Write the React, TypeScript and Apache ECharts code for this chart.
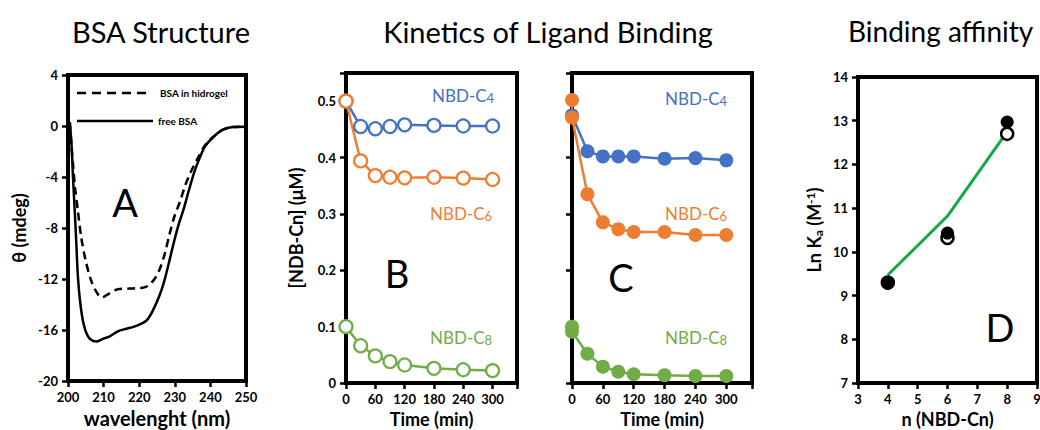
import React, { useEffect, useRef } from 'react';
import * as echarts from 'echarts';

// ---- Panel A: CD spectra ----
const waveFree = [200.5, 201.0, 201.4, 201.9, 202.35, 202.8, 203.5, 204.4, 205.6, 207.0, 208.1, 209.8, 211.7, 214.0, 216.4, 218.4, 220.6, 222.1, 223.8, 225.7, 227.0, 228.2, 229.4, 231.0, 232.5, 234.0, 235.5, 237.0, 238.5, 240.6, 243.4, 246.3, 250];
const thetaFree = [0.3, -1.5, -4.0, -6.7, -9.3, -11.9, -14.0, -15.55, -16.5, -16.86, -16.9, -16.7, -16.5, -16.1, -15.9, -15.75, -15.5, -15.25, -14.5, -13.3, -12.2, -10.9, -9.5, -7.8, -6.5, -5.0, -3.6, -2.5, -1.6, -0.92, -0.31, -0.08, -0.05];
const waveGel = [200.5, 201.0, 201.5, 202.0, 202.8, 203.7, 205.0, 206.6, 208.4, 209.6, 211.2, 214.0, 217.3, 220.6, 222.4, 224.3, 225.8, 227.2, 228.5, 230.0, 231.5, 233.0, 234.5, 236.5, 238.5, 240.6, 243.4, 246.3, 250];
const thetaGel = [0.3, -1.6, -3.3, -4.9, -6.7, -8.7, -10.6, -12.2, -13.2, -13.45, -13.2, -12.8, -12.75, -12.7, -12.55, -12.0, -11.2, -10.0, -8.5, -7.0, -5.9, -4.6, -3.6, -2.5, -1.5, -0.9, -0.31, -0.08, -0.05];
const legendNames = ['BSA in hidrogel', 'free BSA'];

// ---- Panel B: kinetics (open symbols) ----
const timeB = [0, 30, 60, 90, 120, 180, 240, 300];
const bC4 = [0.5, 0.455, 0.451, 0.455, 0.458, 0.457, 0.456, 0.456];
const bC6 = [0.5, 0.394, 0.368, 0.365, 0.364, 0.365, 0.3635, 0.361];
const bC8 = [0.1, 0.066, 0.048, 0.038, 0.032, 0.026, 0.0235, 0.022];

// ---- Panel C: kinetics (filled symbols) ----
const timeC4 = [0, 30, 60, 90, 120, 180, 240, 300];
const cC4 = [0.475, 0.411, 0.402, 0.402, 0.402, 0.398, 0.399, 0.395];
const timeC6 = [0, 0, 30, 60, 90, 120, 180, 240, 300];
const cC6 = [0.502, 0.471, 0.335, 0.285, 0.273, 0.268, 0.268, 0.2625, 0.2625];
const timeC8 = [0, 0, 30, 60, 90, 120, 180, 240, 300];
const cC8 = [0.1, 0.091, 0.052, 0.029, 0.02, 0.0155, 0.0137, 0.0125, 0.0125];

// ---- Panel D: binding affinity ----
const nChain = [4, 6, 8];
const lnKaFilled = [9.28, 10.43, 12.97];
const lnKaOpen = [9.3, 10.32, 12.7];
const lnKaFit = [9.47, 10.82, 12.75];

const titles = ['BSA Structure', 'Kinetics of Ligand Binding', 'Binding affinity'];
const panelLetters = ['A', 'B', 'C', 'D'];

const BLUE = '#4472c4';
const ORANGE = '#ed7d31';
const GREEN = '#70ad47';
const FIT = '#14a84a';
const FONT = 'Lato';

const zip = (xs: number[], ys: number[]) => xs.map((x, i) => [x, ys[i]]);

export default function App() {
  const ref = useRef<HTMLDivElement>(null);
  useEffect(() => {
    const chart = echarts.init(ref.current!, null, { renderer: 'svg' });
    const tickLabel = { color: '#000', fontFamily: FONT, fontWeight: 'bold' as const, fontSize: 13 };
    const nameStyle = { color: '#000', fontFamily: FONT, fontWeight: 'bold' as const, fontSize: 18 };
    const tick = { show: true, inside: false, length: 6, lineStyle: { color: '#000', width: 2.5 } };
    const gridBase = { show: true, borderColor: '#000', borderWidth: 4, backgroundColor: 'transparent', containLabel: false, outerBoundsMode: 'none' };
    const mkX = (gi: number, min: number, max: number, interval: number, name: string, fmt?: (v: number) => string, ns: any = nameStyle, gap = 26) => ({
      type: 'value', gridIndex: gi, min, max, interval, position: 'bottom',
      axisLine: { show: true, onZero: false, lineStyle: { color: '#000', width: 4 } }, axisTick: tick, splitLine: { show: false },
      axisLabel: { ...tickLabel, margin: 9, formatter: fmt },
      name, nameLocation: 'middle', nameGap: gap, nameTextStyle: ns,
    });
    const mkY = (gi: number, min: number, max: number, interval: number, name: string, showLabel: boolean, fmt?: (v: number) => string, nameGap = 38, ns: any = nameStyle) => ({
      type: 'value', gridIndex: gi, min, max, interval, position: 'left',
      axisLine: { show: true, onZero: false, lineStyle: { color: '#000', width: 4 } }, axisTick: tick, splitLine: { show: false },
      axisLabel: { ...tickLabel, show: showLabel, margin: 10, formatter: fmt },
      name, nameLocation: 'middle', nameGap, nameTextStyle: ns,
    });
    const timeFmt = (v: number) => (v % 60 === 0 ? String(v) : '');
    const concFmt = (v: number) => {
      const r = Math.round(v * 100);
      return r % 10 === 0 ? String(r / 100) : '';
    };
    const lineCommon = { clip: false, z: 3 };
    const openB = (name: string, data: number[], color: string) => ({
      ...lineCommon, type: 'line', name, xAxisIndex: 1, yAxisIndex: 1,
      data: zip(timeB, data), symbol: 'circle', symbolSize: 13,
      itemStyle: { color: '#fff', borderColor: color, borderWidth: 2.2 },
      lineStyle: { color, width: 2.5 },
    });
    const filledC = (name: string, xs: number[], data: number[], color: string) => ({
      ...lineCommon, type: 'line', name, xAxisIndex: 2, yAxisIndex: 2,
      data: zip(xs, data), symbol: 'circle', symbolSize: 14,
      itemStyle: { color, borderWidth: 0 },
      lineStyle: { color, width: 2.5 },
    });
    const label = (x: number, y: number, sub: string, color: string) => ({
      type: 'text', x, y,
      style: {
        text: `{m|NBD-C}{s|${sub}}`,
        verticalAlign: 'middle',
        rich: {
          m: { fontSize: 17, fontFamily: FONT, fill: color, lineHeight: 18, verticalAlign: 'bottom' },
          s: { fontSize: 13, fontFamily: FONT, fill: color, lineHeight: 4, verticalAlign: 'bottom' },
        },
      },
    });
    const letter = (x: number, y: number, t: string) => ({
      type: 'text', x, y,
      style: { text: t, fontSize: 38, fontFamily: FONT, fill: '#000', align: 'center', verticalAlign: 'middle' },
    });
    const legendItem = (y: number, x2: number, tx: number, text: string, dash: any) => ([
      { type: 'line', shape: { x1: 77, y1: y, x2, y2: y }, style: { stroke: '#000', lineWidth: 2.5, lineDash: dash } },
      { type: 'text', x: tx, y, style: { text, fontFamily: FONT, fontWeight: 'bold', fontSize: 10, fill: '#000', verticalAlign: 'middle' } },
    ]);
    const titleStyle = { fontFamily: FONT, fontWeight: 'normal', fontSize: 29, color: '#000' };
    const option: any = {
      animation: false,
      backgroundColor: '#fff',
      title: [
        { text: titles[0], left: 156, top: 12, textAlign: 'center', textStyle: titleStyle },
        { text: titles[1], left: 543, top: 12, textAlign: 'center', textStyle: titleStyle },
        { text: titles[2], left: 843, top: 12, textStyle: { ...titleStyle, fontSize: 28 } },
      ],
      grid: [
        { ...gridBase, left: 68, top: 75, width: 178, height: 306 },
        { ...gridBase, left: 346, top: 73, width: 171, height: 310 },
        { ...gridBase, left: 572, top: 73, width: 180, height: 310 },
        { ...gridBase, left: 858, top: 77, width: 179, height: 306 },
      ],
      xAxis: [
        mkX(0, 200, 250, 10, 'wavelenght (nm)', undefined, { ...nameStyle, fontSize: 20 }, 25),
        mkX(1, 0, 350, 60, 'Time (min)', timeFmt),
        mkX(2, 0, 350, 60, 'Time (min)', timeFmt),
        mkX(3, 3, 9, 1, 'n (NBD-Cn)'),
      ],
      yAxis: [
        mkY(0, -20, 4, 4, 'θ (mdeg)', true, undefined, 40),
        mkY(1, 0, 0.55, 0.1, '[NDB-Cn] (μM)', true, concFmt, 41),
        mkY(2, 0, 0.55, 0.1, '', false),
        mkY(3, 7, 14, 1, '{n|Ln K}{s|a}{n| (M}{p|-1}{n|)}', true, undefined, 34, {
          ...nameStyle,
          rich: {
            n: { ...nameStyle, lineHeight: 20, verticalAlign: 'middle' },
            s: { ...nameStyle, fontSize: 12, lineHeight: 8, verticalAlign: 'bottom' },
            p: { ...nameStyle, fontSize: 12, lineHeight: 8, verticalAlign: 'top' },
          },
        }),
      ],
      series: [
        {
          ...lineCommon, type: 'line', name: legendNames[0], xAxisIndex: 0, yAxisIndex: 0,
          data: zip(waveGel, thetaGel), symbol: 'none', smooth: 0.3,
          lineStyle: { color: '#000', width: 2.5, type: [8, 5] }, itemStyle: { color: '#000' },
        },
        {
          ...lineCommon, type: 'line', name: legendNames[1], xAxisIndex: 0, yAxisIndex: 0,
          data: zip(waveFree, thetaFree), symbol: 'none', smooth: 0.3,
          lineStyle: { color: '#000', width: 2.5 }, itemStyle: { color: '#000' },
        },
        openB('B-C4', bC4, BLUE),
        openB('B-C8', bC8, GREEN),
        openB('B-C6', bC6, ORANGE),
        filledC('C-C4', timeC4, cC4, BLUE),
        filledC('C-C6', timeC6, cC6, ORANGE),
        filledC('C-C8', timeC8, cC8, GREEN),
        {
          ...lineCommon, type: 'line', name: 'fit', xAxisIndex: 3, yAxisIndex: 3,
          data: zip(nChain, lnKaFit), symbol: 'none', lineStyle: { color: FIT, width: 3 },
        },
        {
          ...lineCommon, type: 'scatter', name: 'open', xAxisIndex: 3, yAxisIndex: 3,
          data: zip(nChain, lnKaOpen), symbol: 'circle', symbolSize: 12,
          itemStyle: { color: '#fff', borderColor: '#000', borderWidth: 2.5, opacity: 1 },
        },
        {
          ...lineCommon, type: 'scatter', name: 'filled', xAxisIndex: 3, yAxisIndex: 3,
          data: zip(nChain, lnKaFilled), symbol: 'circle', symbolSize: 13,
          itemStyle: { color: '#000', opacity: 1 },
        },
      ],
      graphic: [
        ...legendItem(93, 147, 160, legendNames[0], [9, 6]),
        ...legendItem(121, 153, 158, legendNames[1], null),
        letter(125, 202, panelLetters[0]),
        letter(397, 273, panelLetters[1]),
        letter(621, 277, panelLetters[2]),
        letter(1000, 327, panelLetters[3]),
        label(432, 95, '4', BLUE),
        label(430, 213, '6', ORANGE),
        label(430, 337, '8', GREEN),
        label(665, 98, '4', BLUE),
        label(665, 213, '6', ORANGE),
        label(665, 337, '8', GREEN),
      ],
    };
    chart.setOption(option);
    return () => chart.dispose();
  }, []);
  return <div ref={ref} style={{ position: 'fixed', left: 0, top: 0, width: 1040, height: 430 }} />;
}
